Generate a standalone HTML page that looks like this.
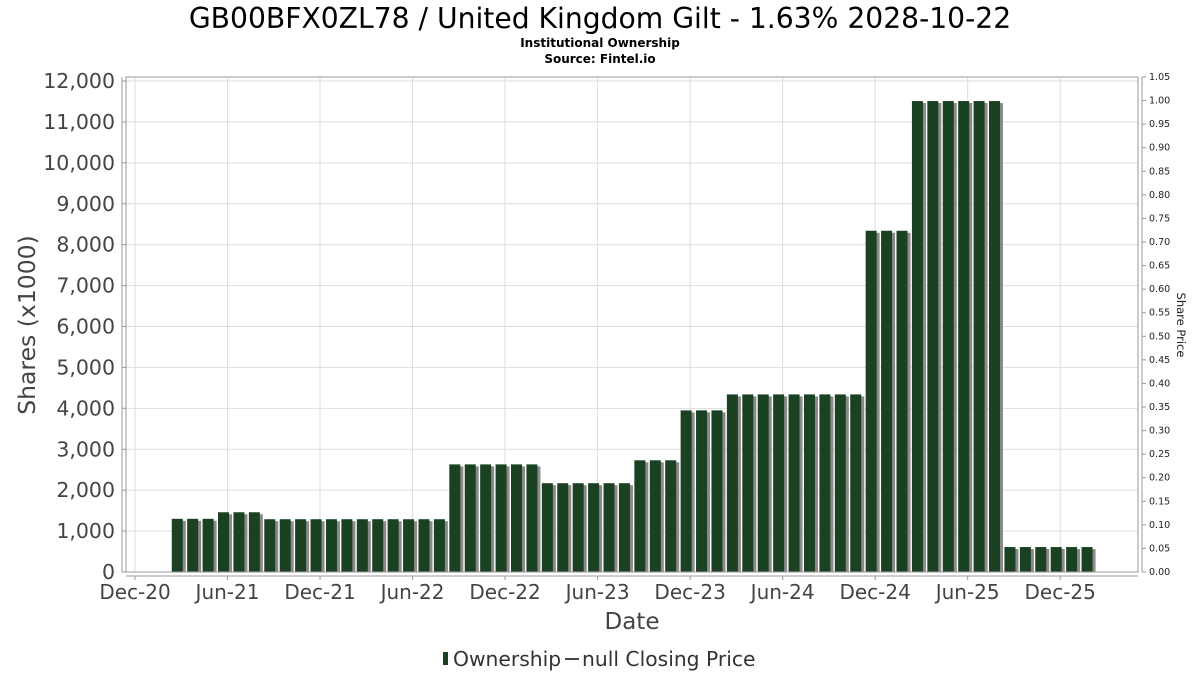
<!DOCTYPE html>
<html><head><meta charset="utf-8"><style>
body{margin:0;background:#fff}
svg{display:block;font-family:"DejaVu Sans","Liberation Sans",sans-serif}
</style></head><body>
<svg id="c" width="1200" height="675" viewBox="0 0 1200 675">
<text x="600" y="28" text-anchor="middle" font-size="28.2" fill="#000">GB00BFX0ZL78 / United Kingdom Gilt - 1.63% 2028-10-22</text>
<text x="600" y="47" text-anchor="middle" font-size="12" font-weight="bold" fill="#000">Institutional Ownership</text>
<text x="600" y="63" text-anchor="middle" font-size="12" font-weight="bold" fill="#000">Source: Fintel.io</text>
<g id="grid"></g>
<g id="bars"></g>
<g id="axes"></g>
<text transform="translate(35,325) rotate(-90)" text-anchor="middle" font-size="23.5" fill="#444">Shares (x1000)</text>
<text transform="translate(1177,325) rotate(90)" text-anchor="middle" font-size="11.5" fill="#222">Share Price</text>
<text x="632" y="629" text-anchor="middle" font-size="23" fill="#444">Date</text>
<g>
<rect x="443" y="652" width="5" height="13" fill="#1a4122"/>
<text x="453" y="666" font-size="20.3" fill="#333">Ownership</text>
<line x1="565" y1="659" x2="579" y2="659" stroke="#444" stroke-width="2"/>
<text x="582" y="666" font-size="20.3" fill="#333">null Closing Price</text>
</g>
</svg>
<script>
// monthly holdings, month index 0 = Dec-20
const months = [3,4,5,6,7,8,9,10,11,12,13,14,15,16,17,18,19,20,21,22,23,24,25,26,27,28,29,30,31,32,33,34,35,36,37,38,39,40,41,42,43,44,45,46,47,48,49,50,51,52,53,54,55,56,57,58,59,60,61,62];
const shares = [1300,1300,1300,1460,1460,1460,1290,1290,1290,1290,1290,1290,1290,1290,1290,1290,1290,1290,2630,2630,2630,2630,2630,2630,2170,2170,2170,2170,2170,2170,2730,2730,2730,3950,3950,3950,4340,4340,4340,4340,4340,4340,4340,4340,4340,8340,8340,8340,11510,11510,11510,11510,11510,11510,610,610,610,610,610,610];
const yTicks = [0,1000,2000,3000,4000,5000,6000,7000,8000,9000,10000,11000,12000];
const y2Ticks = ["0.00","0.05","0.10","0.15","0.20","0.25","0.30","0.35","0.40","0.45","0.50","0.55","0.60","0.65","0.70","0.75","0.80","0.85","0.90","0.95","1.00","1.05"];
const xTickMonths = [0,6,12,18,24,30,36,42,48,54,60];
const xTickLabels = ["Dec-20","Jun-21","Dec-21","Jun-22","Dec-22","Jun-23","Dec-23","Jun-24","Dec-24","Jun-25","Dec-25"];

const NS="http://www.w3.org/2000/svg";
const L=126,R=1138,T=77,B=572;
const y=v=>B-v*(491/12000);
const y2=v=>B-v*((B-T)/1.05);
const x=m=>135+m*15.42;
function mk(tag,attrs,parent,txt){const e=document.createElementNS(NS,tag);for(const k in attrs)e.setAttribute(k,attrs[k]);if(txt!=null)e.textContent=txt;parent.appendChild(e);return e;}
const grid=document.getElementById('grid'),bars=document.getElementById('bars'),axes=document.getElementById('axes');
mk('rect',{x:L,y:T,width:R-L,height:B-T,fill:'#fff'},grid);
yTicks.forEach(v=>{
  const g=mk('line',{x1:L,x2:R,y1:y(v),y2:y(v),stroke:'#ddd','stroke-width':1},grid);
  
  
  const t=mk('text',{x:L-11,y:y(v)+7,'text-anchor':'end','font-size':20.5,fill:'#444'},axes,v.toLocaleString('en-US'));
  
  
  mk('line',{x1:L-4,x2:L,y1:y(v),y2:y(v),stroke:'#999'},axes);
});
xTickMonths.forEach((m,i)=>{
  const g=mk('line',{x1:x(m),x2:x(m),y1:T,y2:B,stroke:'#ddd'},grid);
  
  
  mk('line',{x1:x(m),x2:x(m),y1:B+4,y2:B+8,stroke:'#999'},axes);
  const t=mk('text',{x:x(m),y:B+27,'text-anchor':'middle','font-size':20,fill:'#444'},axes,xTickLabels[i]);
  
  
});
y2Ticks.forEach(s=>{
  const v=parseFloat(s);
  mk('line',{x1:R+4,x2:R+8,y1:y2(v),y2:y2(v),stroke:'#999'},axes);
  const t=mk('text',{x:R+11,y:y2(v)+3,'font-size':9.5,fill:'#222'},axes,s);
  
  
});
months.forEach((m,i)=>{
  const cx=x(m)-4, top=y(shares[i]);
  mk('rect',{x:cx-5.5+3,y:top+2,width:11,height:B-top-2,fill:'#8a8a8a'},bars);
  const b=mk('rect',{x:cx-5.5,y:top,width:11,height:B-top,fill:'#1a4122'},bars);
  
  
});
mk('rect',{x:L,y:T,width:R-L,height:B-T,fill:'none',stroke:'#999'},axes);
mk('line',{x1:L-4,x2:L-4,y1:T,y2:B,stroke:'#999'},axes);
mk('line',{x1:L,x2:R,y1:B+4,y2:B+4,stroke:'#999'},axes);
mk('line',{x1:R+4,x2:R+4,y1:T,y2:B,stroke:'#999'},axes);
</script>
</body></html>
